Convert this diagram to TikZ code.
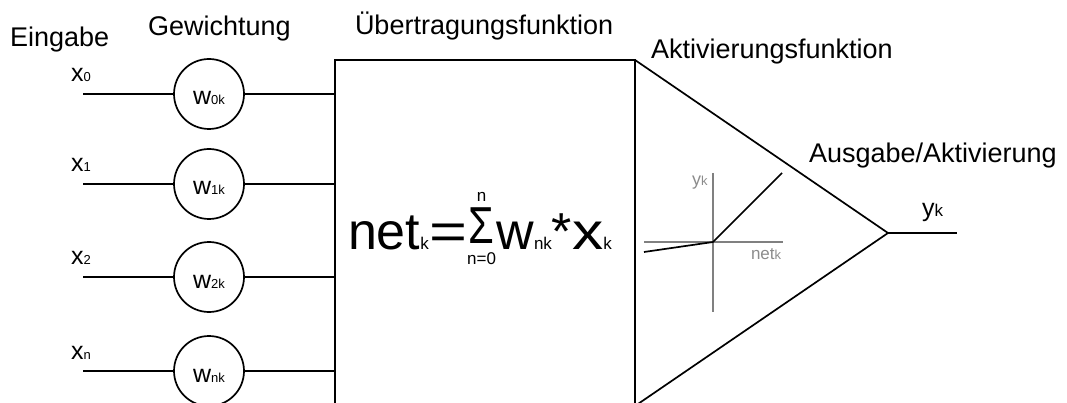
\documentclass[tikz,border=0pt]{standalone}
\usepackage{fontspec}
\usepackage{graphicx}
\setmainfont{Liberation Sans}
\newcommand\fsz[2]{{\fontsize{#1}{#1}\selectfont #2}}
\definecolor{axisgray}{RGB}{128,128,128}
\definecolor{labgray}{RGB}{140,140,140}
\begin{document}
\begin{tikzpicture}[x=1pt,y=-1pt,
  every node/.style={inner sep=0pt, outer sep=0pt},
  line/.style={line width=1.7pt, black},
  wcirc/.style={draw, circle, line width=1.7pt, minimum size=70pt},
  title/.style={anchor=base west, font=\fontsize{27}{30}\selectfont},
  inlabel/.style={anchor=base west, font=\fontsize{25}{28}\selectfont},
  axis/.style={line width=1.8pt, axisgray}
]
\useasboundingbox (0,0) rectangle (1067,403);

% titles
\node[title] (tEin) at (10,47) {Eingabe};
\node[title] (tGew) at (148,36) {Gewichtung};
\node[title] (tUeb) at (355,35) {Übertragungsfunktion};
\node[title] (tAkt) at (651,59) {Aktivierungsfunktion};
\node[title] (tAus) at (809,163) {Ausgabe/Aktivierung};

% main box
\node[draw, line width=1.7pt, anchor=north west, minimum width=300pt, minimum height=346pt] (box) at (335,60) {};

% weight circles
\foreach \i/\yy/\lab in {0/94/0, 1/184/1, 2/277/2, n/371/n}{
  \node[wcirc] (w\i) at (209,\yy) {\raisebox{-11pt}[0pt][0pt]{\fontsize{25}{25}\selectfont w\fsz{13}{\lab k}}};
  \coordinate (in\i) at (83,\yy);
  \node[inlabel] (x\i) at (71,\yy-12) {x\fsz{13}{\lab}};
  \draw[line] (in\i) -- (w\i.west);
  \draw[line] (w\i.east) -- (w\i.east -| box.west);
}

% formula
\node[anchor=base west, font=\fontsize{52}{56}\selectfont] (formula) at (348,250)
  {net\fsz{17}{k}\kern1pt\scalebox{1.25}[1]{=}\kern1pt\ooalign{\hfil\raisebox{6pt}{\scalebox{0.8}[1]{\fsz{52}{Σ}}}\hfil\cr
     \hidewidth\raisebox{48pt}{\fsz{17}{n}}\hidewidth\cr
     \hidewidth\raisebox{-15pt}{\fsz{17}{n=0}}\hidewidth\cr}\kern2pt w\fsz{17}{nk}*\scalebox{1.2}[1]{x}\fsz{17}{k}};

% activation triangle
\coordinate (tip) at (888,233);
\coordinate (out) at (957,233);
\draw[line, line join=miter] (box.north east) -- (tip) -- (box.south east);
\draw[line] (tip) -- (out);
\node[anchor=base west, font=\fontsize{25}{28}\selectfont] (yout) at (922,217) {y\fsz{17}{k}};

% small graph
\coordinate (axL) at (644,242);
\coordinate (axR) at (783,242);
\coordinate (axT) at (713,173);
\coordinate (axB) at (713,312);
\coordinate (o) at (713,242);
\coordinate (cL) at (644,252);
\coordinate (cR) at (782,173);
\draw[axis] (axL) -- (axR);
\draw[axis] (axT) -- (axB);
\draw[line] (cL) -- (o) -- (cR);
\node[anchor=base west, text=labgray, font=\fontsize{18}{20}\selectfont] (gy) at (692,186) {y\fsz{13}{k}};
\node[anchor=base west, text=labgray, font=\fontsize{17}{20}\selectfont] (gnet) at (751,259) {net\fsz{13}{k}};
\end{tikzpicture}
\end{document}
